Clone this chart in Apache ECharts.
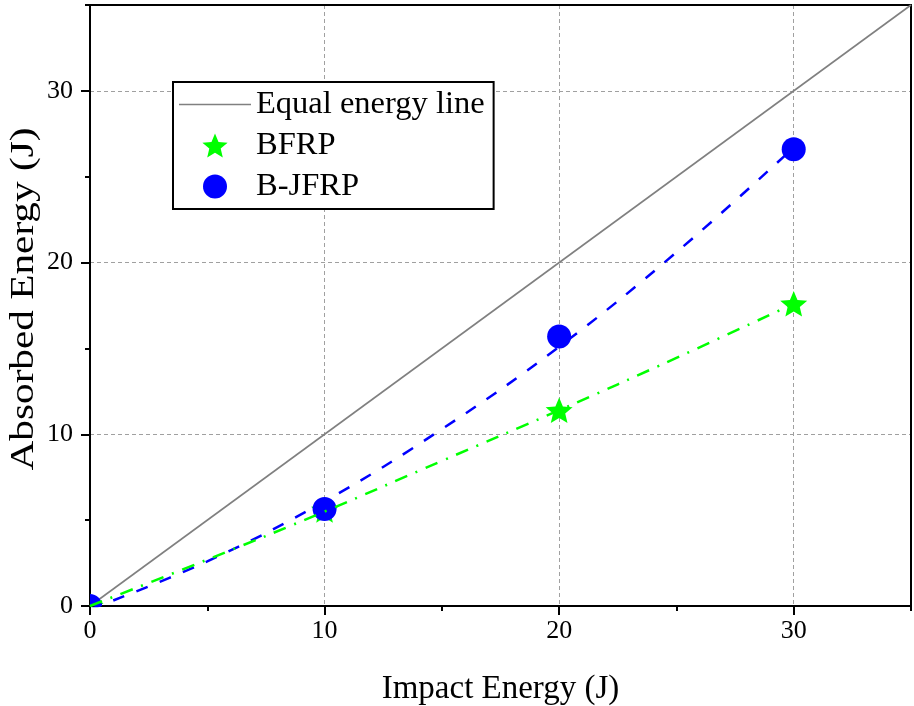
<!DOCTYPE html>
<html>
<head>
<meta charset="utf-8">
<script src="https://cdn.jsdelivr.net/npm/echarts@6/dist/echarts.min.js"></script>
<style>
html,body{margin:0;padding:0;background:#fff;}
#chart{width:914px;height:706px;}
</style>
</head>
<body>
<div id="chart"></div>
<script>
// ---- data ----
var impactEnergy = [0, 10, 20, 30];
var bfrpAbsorbed = [0, 5.6, 11.4, 17.6];
var bjfrpAbsorbed = [0, 5.65, 15.7, 26.6];
var equalLineX = [0, 35];
var equalLineY = [0, 35];
var fitX = [0, 5, 10, 15, 20, 25, 30];
var bfrpFitY = [0, 2.7, 5.5, 8.45, 11.4, 14.45, 17.6];
var bjfrpFitY = [-0.2, 2.6, 6.1, 10.3, 15.1, 20.6, 26.7];
var xTicks = [0, 10, 20, 30];
var yTicks = [0, 10, 20, 30];
var seriesNames = ['Equal energy line', 'BFRP', 'B-JFRP'];

function zip(xs, ys) { return xs.map(function (x, i) { return [x, ys[i]]; }); }

var FONT = '"Liberation Serif", "Times New Roman", serif';
var STAR_D = 'M0,-100 L26.45,-36.4 L95.1,-30.9 L42.8,13.9 L58.8,80.9 L0,45 L-58.8,80.9 L-42.8,13.9 L-95.1,-30.9 L-26.45,-36.4 Z';
var STAR = 'path://' + STAR_D;
var HLINE = 'path://M0,0 L72,0 L72,1.6 L0,1.6 Z';

var chart = echarts.init(document.getElementById('chart'), null, {renderer: 'canvas'});

var gridLine = {show: true, lineStyle: {color: '#a0a0a0', width: 1, type: [4, 3]}};
var blackLine = {show: true, onZero: false, lineStyle: {color: '#000', width: 2}};

function clipRect(params) {
  var cs = params.coordSys;
  return {type: 'rect', shape: {x: cs.x, y: cs.y, width: cs.width, height: cs.height}};
}
function renderStar(params, api) {
  var p = api.coord([api.value(0), api.value(1)]);
  return {
    type: 'path',
    shape: {pathData: STAR_D, x: p[0] - 13.5, y: p[1] - 13, width: 27, height: 26, layout: 'center'},
    style: {fill: '#00ff00'},
    clipPath: clipRect(params)
  };
}
function renderCircle(params, api) {
  var p = api.coord([api.value(0), api.value(1)]);
  return {
    type: 'circle',
    shape: {cx: p[0], cy: p[1], r: 12},
    style: {fill: '#0000ff'},
    clipPath: clipRect(params)
  };
}

var option = {
  backgroundColor: '#fff',
  animation: false,
  grid: {left: 90, right: 3, top: 5, bottom: 100, containLabel: false, outerBoundsMode: 'none'},
  graphic: [{
    type: 'text',
    x: 24, y: 299,
    rotation: Math.PI / 2,
    scaleX: 1.25,
    style: {
      text: 'Absorbed Energy (J)',
      font: '33px ' + FONT,
      fill: '#000',
      align: 'center',
      verticalAlign: 'middle'
    }
  }],
  legend: {
    orient: 'vertical',
    left: 173, top: 82,
    padding: [6, 9, 6, 6],
    itemWidth: 72, itemHeight: 24,
    itemGap: 8,
    borderColor: '#000', borderWidth: 2,
    backgroundColor: '#fff',
    symbolKeepAspect: true,
    textStyle: {fontFamily: FONT, fontSize: 32.5, lineHeight: 33, color: '#000'},
    data: [
      {name: seriesNames[0], icon: HLINE, itemStyle: {color: '#808080'}},
      {name: seriesNames[1], icon: STAR, itemStyle: {color: '#00ff00'}},
      {name: seriesNames[2], icon: 'circle', itemStyle: {color: '#0000ff'}}
    ]
  },
  xAxis: [{
    type: 'value', position: 'bottom', min: 0, max: 35, interval: 10,
    axisLine: blackLine,
    axisTick: {show: true, inside: false, length: 9, lineStyle: {color: '#000', width: 2}},
    axisLabel: {show: true, margin: 12, fontFamily: FONT, fontSize: 26, color: '#000', showMaxLabel: false,
      formatter: function (v) { return xTicks.indexOf(v) >= 0 ? String(v) : ''; }},
    splitLine: gridLine,
    name: 'Impact Energy (J)', nameLocation: 'middle', nameGap: 67,
    nameTextStyle: {fontFamily: FONT, fontSize: 33, color: '#000'}
  }, {
    type: 'value', position: 'bottom', min: 0, max: 35, interval: 5,
    axisLine: {show: false, onZero: false},
    axisTick: {show: true, inside: false, length: 5, lineStyle: {color: '#000', width: 2}},
    axisLabel: {show: false}, splitLine: {show: false}
  }, {
    type: 'value', position: 'top', min: 0, max: 35, interval: 35,
    axisLine: blackLine, axisTick: {show: false}, axisLabel: {show: false}, splitLine: {show: false}
  }],
  yAxis: [{
    type: 'value', position: 'left', min: 0, max: 35, interval: 10,
    axisLine: blackLine,
    axisTick: {show: true, inside: false, length: 9, lineStyle: {color: '#000', width: 2}},
    axisLabel: {show: true, margin: 17, fontFamily: FONT, fontSize: 26, color: '#000', showMaxLabel: false,
      formatter: function (v) { return yTicks.indexOf(v) >= 0 ? String(v) : ''; }},
    splitLine: gridLine
  }, {
    type: 'value', position: 'left', min: 0, max: 35, interval: 5,
    axisLine: {show: false, onZero: false},
    axisTick: {show: true, inside: false, length: 5, lineStyle: {color: '#000', width: 2}},
    axisLabel: {show: false}, splitLine: {show: false}
  }, {
    type: 'value', position: 'right', min: 0, max: 35, interval: 35,
    axisLine: blackLine, axisTick: {show: false}, axisLabel: {show: false}, splitLine: {show: false}
  }],
  series: [{
    name: seriesNames[0], type: 'line', xAxisIndex: 0, yAxisIndex: 0,
    data: zip(equalLineX, equalLineY), symbol: 'none',
    lineStyle: {color: '#808080', width: 1.6}, itemStyle: {color: '#808080'}, z: 2
  }, {
    name: seriesNames[1], type: 'custom', xAxisIndex: 0, yAxisIndex: 0,
    data: zip(impactEnergy, bfrpAbsorbed), renderItem: renderStar,
    encode: {x: 0, y: 1}, itemStyle: {color: '#00ff00'}, z: 3, clip: true
  }, {
    name: seriesNames[2], type: 'custom', xAxisIndex: 0, yAxisIndex: 0,
    data: zip(impactEnergy, bjfrpAbsorbed), renderItem: renderCircle,
    encode: {x: 0, y: 1}, itemStyle: {color: '#0000ff'}, z: 4, clip: true
  }, {
    name: 'B-JFRP fit', type: 'line', xAxisIndex: 0, yAxisIndex: 0,
    data: zip(fitX, bjfrpFitY), symbol: 'none', smooth: 0.4,
    lineStyle: {color: '#0000ff', width: 2.5, type: [12, 13]}, z: 5, clip: true
  }, {
    name: 'BFRP fit', type: 'line', xAxisIndex: 0, yAxisIndex: 0,
    data: zip(fitX, bfrpFitY), symbol: 'none', smooth: 0.4,
    lineStyle: {color: '#00ff00', width: 2.5, type: [13, 9, 2, 9]}, z: 6, clip: true
  }]
};
chart.setOption(option);
</script>
</body>
</html>
